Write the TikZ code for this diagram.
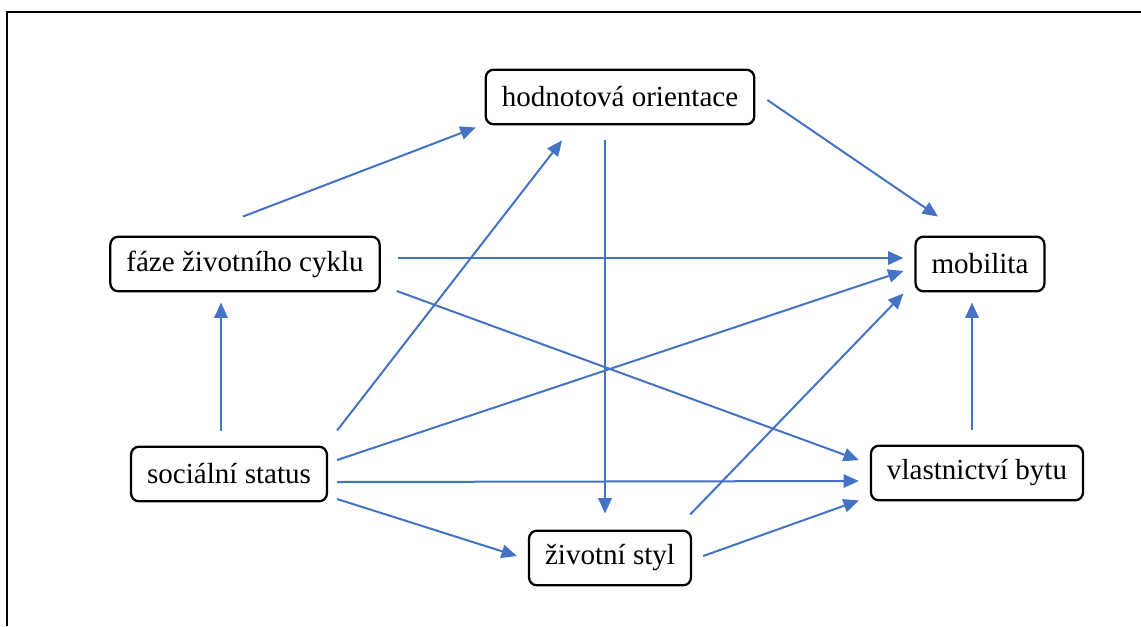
\documentclass[tikz,border=0pt]{standalone}
\usepackage{fontspec}
\setmainfont{Liberation Serif}
\usepackage{tikz}
\usetikzlibrary{arrows.meta,calc}
\definecolor{arrowblue}{HTML}{4472C4}

\begin{document}
\begin{tikzpicture}[x=0.75pt,y=-0.75pt,
  box/.style={draw,rounded corners=6pt,line width=1.7pt,inner xsep=12pt,
    minimum height=41pt,font=\fontsize{21.8}{26}\selectfont},
  link/.style={draw=arrowblue,line width=1.5pt,
    -{Triangle[length=11.5pt,width=10pt]}}]
  \useasboundingbox (0,0) rectangle (1141,626);
  \draw[line width=1.5pt] (7,626) -- (7,12) -- (1141,12);

  \node[box] (hodn) at (620,97) {hodnotová orientace};
  \node[box] (fcyk) at (245,264) {fáze životního cyklu};
  \node[box] (mob) at (980,264) {mobilita};
  \node[box] (soc) at (229,474) {sociální status};
  \node[box] (styl) at (610,558) {životní styl};
  \node[box] (vlast) at (977,473) {vlastnictví bytu};

  \draw[link] ($(fcyk.north)+(-2,-19)$) -- ($(hodn.south west)+(-9,2)$);
  \draw[link] ($(hodn.east)+(12,3)$) -- ($(mob.north)+(-42,-19)$);
  \draw[link] ($(fcyk.east)+(17,-6)$) -- ($(mob.west)+(-11,-6)$);
  \draw[link] ($(fcyk.east)+(16,27)$) -- ($(vlast.west)+(-11,-13)$);
  \draw[link] ($(soc.north)+(-8,-15)$) -- ($(fcyk.south)+(-24,10)$);
  \draw[link] ($(soc.north east)+(9,-15)$) -- ($(hodn.south)+(-58,15)$);
  \draw[link] ($(soc.east)+(9,-14)$) -- ($(mob.west)+(-11,7)$);
  \draw[link] ($(soc.east)+(9,8)$) -- ($(vlast.west)+(-11,8)$);
  \draw[link] ($(soc.east)+(9,25)$) -- ($(styl.west)+(-11,-2)$);
  \draw[link] ($(hodn.south)+(-15,15)$) -- ($(styl.north)+(-5,-16)$);
  \draw[link] ($(styl.north east)+(-2,-15)$) -- ($(mob.south west)+(-11,1)$);
  \draw[link] ($(styl.east)+(11,-2)$) -- ($(vlast.south west)+(-11,-1)$);
  \draw[link] ($(vlast.north)+(-5,-15)$) -- ($(mob.south)+(-8,10)$);
\end{tikzpicture}
\end{document}
